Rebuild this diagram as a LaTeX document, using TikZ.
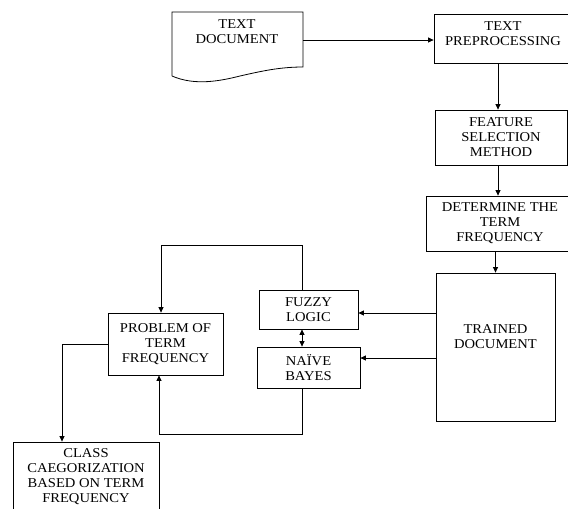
\documentclass[tikz,border=0pt]{standalone}
\usepackage{fontspec}
\setmainfont{Liberation Serif}[FakeStretch=1.08]
\usetikzlibrary{arrows.meta, positioning, calc}
\tikzset{
  every picture/.style={font=\fontsize{13.5}{15}\selectfont, line width=0.8pt},
  box/.style={draw=black, align=center, inner sep=2pt},
  arrow/.style={-{Triangle[length=5.5pt, width=5pt]}, draw=black},
  twoway/.style={{Triangle[length=5.5pt, width=5pt]}-{Triangle[length=5.5pt, width=5pt]}, draw=black},
}

\begin{document}
\begin{tikzpicture}[x=1pt, y=-1pt]
  \clip (0,0) rectangle (568,509);
  % the input document, drawn with a wavy bottom
  \draw (172,76) -- (172,12) -- (303,12) -- (303,67)
        .. controls (280,67) and (262,71) .. (240,76)
        .. controls (220,81) and (195,86) .. (172,76);
  \node[align=center, anchor=north, inner sep=0pt] (doc) at (237,19) {TEXT\\DOCUMENT};
  \coordinate (docR) at (303,40);
  % the right-hand column
  \node[box, minimum width=138pt, minimum height=49pt, text depth=10pt] (pre) at (503,38.5) {TEXT\\PREPROCESSING};
  \node[box, minimum width=132pt, minimum height=55pt] (feat) at (501,137.5) {FEATURE\\SELECTION\\METHOD};
  \node[box, minimum width=148pt, minimum height=55pt] (det) at (500,223.5) {DETERMINE THE\\TERM\\FREQUENCY};
  \node[box, minimum width=119pt, minimum height=148pt, text depth=20pt] (trained) at (495.5,347) {TRAINED\\DOCUMENT};
  % the two classifiers
  \node[box, minimum width=99pt, minimum height=39pt] (fuzzy) at (308.5,309.5) {FUZZY\\LOGIC};
  \node[box, minimum width=103pt, minimum height=41pt] (naive) at (308.5,367.5) {NAÏVE\\BAYES};
  % the left-hand side
  \node[box, minimum width=115pt, minimum height=62pt] (prob) at (165.5,344) {PROBLEM OF\\TERM\\FREQUENCY};
  \node[box, minimum width=146pt, minimum height=70pt] (class) at (86,477) {CLASS\\CAEGORIZATION\\BASED ON TERM\\FREQUENCY};

  \coordinate (fzIn) at ([yshift=-3.5pt]fuzzy.east);
  \coordinate (nbIn) at ([yshift=9.5pt]naive.east);
  \draw[arrow] (docR) -- (pre.west |- docR);
  \draw[arrow] ([xshift=-3pt]feat.north |- pre.south) -- ([xshift=-3pt]feat.north);
  \draw[arrow] ([xshift=-3pt]feat.south) -- ([xshift=-3pt]feat.south |- det.north);
  \draw[arrow] (trained.north |- det.south) -- (trained.north);
  \draw[arrow] (trained.west |- fzIn) -- (fzIn);
  \draw[arrow] (trained.west |- nbIn) -- (nbIn);
  \draw[twoway] ([xshift=-6.5pt]fuzzy.south) -- ([xshift=-6.5pt]fuzzy.south |- naive.north);
  \draw[arrow] ([xshift=-6.5pt]fuzzy.north) -- ++(0,-44) -| ([xshift=-4.5pt]prob.north);
  \draw[arrow] ([xshift=-6.5pt]naive.south) -- ++(0,46) -| ([xshift=-6.5pt]prob.south);
  \draw[arrow] (prob.west) -| ([xshift=-24pt]class.north);
\end{tikzpicture}
\end{document}
